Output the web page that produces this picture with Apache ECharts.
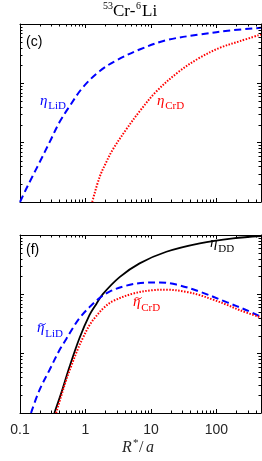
<!DOCTYPE html>
<html><head><meta charset="utf-8">
<script src="https://cdn.jsdelivr.net/npm/echarts@6/dist/echarts.min.js"></script>
<style>html,body{margin:0;padding:0;background:#fff}#c{width:262px;height:461px}</style>
</head><body><div id="c"></div>
<script>
// ---- axis ranges & ticks ----
const X_MIN = 0.1, X_MAX = 480, Y_MIN = 0.001, Y_MAX = 1;
const xTickLabels = ['0.1', '1', '10', '100'];
const xMinorTicks = [0.2,0.3,0.4,0.5,0.6,0.7,0.8,0.9,2,3,4,5,6,7,8,9,20,30,40,50,60,70,80,90,200,300,400];
const yMinorTicks = [0.002,0.003,0.004,0.005,0.006,0.007,0.008,0.009,0.02,0.03,0.04,0.05,0.06,0.07,0.08,0.09,0.2,0.3,0.4,0.5,0.6,0.7,0.8,0.9];

// ---- panel (c): eta_LiD, eta_CrD ----
const cLiDX = [0.1, 0.1236, 0.156, 0.198, 0.281, 0.40, 0.569, 0.91, 1.64, 2.95, 6.71, 17.2, 55.7, 180, 479];
const cLiDY = [0.001, 0.00164, 0.00274, 0.0046, 0.01, 0.022, 0.0408, 0.0853, 0.160, 0.243, 0.372, 0.533, 0.666, 0.787, 0.863];
const cCrDX = [1.267, 1.637, 2.07, 2.62, 4.20, 6.71, 12.1, 27.2, 55.7, 112.8, 228, 479];
const cCrDY = [0.001, 0.0026, 0.00466, 0.0077, 0.01675, 0.0337, 0.073, 0.160, 0.270, 0.397, 0.513, 0.666];

// ---- panel (f): eta_DD, tilde eta_LiD, tilde eta_CrD ----
const fDDX = [0.335, 0.425, 0.569, 0.809, 1.15, 1.46, 1.84, 3.32, 6.71, 17.2, 55.7, 180, 479];
const fDDY = [0.001, 0.00214, 0.00596, 0.0182, 0.0446, 0.0683, 0.1007, 0.195, 0.333, 0.522, 0.724, 0.880, 0.962];
const fLiDX = [0.1474, 0.1975, 0.281, 0.3996, 0.506, 0.639, 0.809, 1.152, 1.638, 2.33, 4.20, 8.51, 13.6, 24.5, 55.7, 143, 289, 479];
const fLiDY = [0.001, 0.00241, 0.00525, 0.0114, 0.0175, 0.0269, 0.0396, 0.0608, 0.0863, 0.111, 0.140, 0.158, 0.159, 0.146, 0.111, 0.0738, 0.054, 0.0417];
const fCrDX = [0.356, 0.4245, 0.506, 0.604, 0.762, 0.909, 1.152, 1.458, 1.954, 2.62, 5.30, 10.73, 17.2, 34.8, 55.7, 89, 143, 228, 479];
const fCrDY = [0.001, 0.00191, 0.00355, 0.00613, 0.01187, 0.0182, 0.0302, 0.0428, 0.0608, 0.0768, 0.1028, 0.1177, 0.120, 0.110, 0.0969, 0.0813, 0.067, 0.054, 0.0407];

const zip = (xs, ys) => xs.map((x, i) => [x, ys[i]]);

const BLUE = '#0000ff', RED = '#ff0000', BLACK = '#000000', TXT = '#262626';
const SERIF = '"Liberation Serif","DejaVu Serif",serif';
const SANS = '"Liberation Sans",Arial,sans-serif';

function xAx(gi, pos, labels) {
  return {
    type: 'log', logBase: 10, gridIndex: gi, position: pos, min: X_MIN, max: X_MAX,
    axisLine: { show: true, onZero: false, lineStyle: { color: '#000', width: 1 } },
    axisTick: { show: true, inside: true, length: 4, lineStyle: { color: '#000', width: 1 } },
    axisLabel: {
      show: labels, margin: 10, color: TXT, fontFamily: SANS, fontSize: 14,
      showMinLabel: true, showMaxLabel: false,
      formatter: (v) => { const s = xTickLabels.find(t => Math.abs(parseFloat(t) - v) < 1e-9 * Math.max(1, v)); return s || ''; }
    },
    splitLine: { show: false }, minorTick: { show: false }
  };
}
function yAx(gi, pos) {
  return {
    type: 'log', logBase: 10, gridIndex: gi, position: pos, min: Y_MIN, max: Y_MAX,
    axisLine: { show: true, onZero: false, lineStyle: { color: '#000', width: 1 } },
    axisTick: { show: true, inside: true, length: 4, lineStyle: { color: '#000', width: 1 } },
    axisLabel: { show: false }, splitLine: { show: false }, minorTick: { show: false }
  };
}
function minorSeries(gi, dir) {
  const data = dir === 'x' ? xMinorTicks.map(v => [v, Y_MIN]) : yMinorTicks.map(v => [X_MIN, v]);
  return {
    type: 'custom', xAxisIndex: gi * 2, yAxisIndex: gi * 2, silent: true, animation: false, z: 5,
    data: data,
    renderItem: (params, api) => {
      const st = { stroke: '#000', lineWidth: 1 };
      const L = 2.5;
      if (dir === 'x') {
        const v = api.value(0);
        const b = api.coord([v, Y_MIN]), t = api.coord([v, Y_MAX]);
        const x = Math.round(b[0]) + 0.5;
        return { type: 'group', children: [
          { type: 'line', shape: { x1: x, y1: b[1], x2: x, y2: b[1] - L }, style: st },
          { type: 'line', shape: { x1: x, y1: t[1], x2: x, y2: t[1] + L }, style: st }
        ] };
      } else {
        const v = api.value(1);
        const l = api.coord([X_MIN, v]), r = api.coord([X_MAX, v]);
        const y = Math.round(l[1]) + 0.5;
        return { type: 'group', children: [
          { type: 'line', shape: { x1: l[0], y1: y, x2: l[0] + L, y2: y }, style: st },
          { type: 'line', shape: { x1: r[0], y1: y, x2: r[0] - L, y2: y }, style: st }
        ] };
      }
    }
  };
}
function lineSeries(gi, data, color, type, width) {
  return {
    type: 'line', xAxisIndex: gi * 2, yAxisIndex: gi * 2, data: data, showSymbol: false,
    smooth: 0.35, clip: true, animation: false, z: 3,
    lineStyle: { color: color, width: width, type: type, cap: 'butt' }
  };
}
function txt(x, y, text, font, color) {
  return { type: 'text', x: x, y: y, style: { text: text, font: font, fill: color, verticalAlign: 'middle', align: 'left' } };
}
function etaLabel(x, y, sub, color, tilde) {
  const ch = [
    txt(0, 0, 'η', 'italic 15px ' + SERIF, color),
    txt(8.2, 5.3, sub, '11px ' + SERIF, color)
  ];
  if (tilde) {
    ch.push({ type: 'bezierCurve', shape: { x1: 1.8, y1: -3.6, x2: 8.6, y2: -5.2, cpx1: 3.8, cpy1: -7.4, cpx2: 6.6, cpy2: -1.4 },
      style: { stroke: color, lineWidth: 0.9, fill: null } });
  }
  return { type: 'group', x: x, y: y, children: ch };
}

const option = {
  backgroundColor: '#fff',
  animation: false,
  grid: [
    { left: 20, top: 24, width: 241, height: 178 },
    { left: 20, top: 235, width: 241, height: 178 }
  ],
  xAxis: [xAx(0, 'bottom', false), xAx(0, 'top', false), xAx(1, 'bottom', true), xAx(1, 'top', false)],
  yAxis: [yAx(0, 'left'), yAx(0, 'right'), yAx(1, 'left'), yAx(1, 'right')],
  series: [
    minorSeries(0, 'x'), minorSeries(0, 'y'), minorSeries(1, 'x'), minorSeries(1, 'y'),
    lineSeries(0, zip(cLiDX, cLiDY), BLUE, [7, 4], 2),
    lineSeries(0, zip(cCrDX, cCrDY), RED, [1.5, 1.5], 2),
    lineSeries(1, zip(fDDX, fDDY), BLACK, 'solid', 1.8),
    lineSeries(1, zip(fLiDX, fLiDY), BLUE, [7, 4], 2),
    lineSeries(1, zip(fCrDX, fCrDY), RED, [1.5, 1.5], 2)
  ],
  graphic: [
    { type: 'group', x: 0, y: 0, children: [
      txt(103, 6.8, '53', '10px ' + SERIF, '#000'),
      txt(113, 11.6, 'Cr-', '17px ' + SERIF, '#000'),
      txt(136, 6.8, '6', '10px ' + SERIF, '#000'),
      txt(142, 11.6, 'Li', '17px ' + SERIF, '#000')
    ] },
    txt(26, 42, '(c)', '14px ' + SANS, '#000'),
    txt(26, 250, '(f)', '14px ' + SANS, '#000'),
    etaLabel(40, 101, 'LiD', BLUE, false),
    etaLabel(157, 101, 'CrD', RED, false),
    etaLabel(210, 243.5, 'DD', BLACK, false),
    etaLabel(133, 302.5, 'CrD', RED, true),
    etaLabel(37, 328.5, 'LiD', BLUE, true),
    { type: 'group', x: 0, y: 0, children: [
      txt(122, 447.5, 'R', 'italic 16px ' + SERIF, TXT),
      txt(133, 443, '*', '11px ' + SERIF, TXT),
      txt(139, 447.5, '/', '16px ' + SERIF, TXT),
      txt(146, 447.5, 'a', 'italic 16px ' + SERIF, TXT)
    ] }
  ]
};
const chart = echarts.init(document.getElementById('c'), null, { renderer: 'canvas' });
chart.setOption(option);
</script></body></html>
